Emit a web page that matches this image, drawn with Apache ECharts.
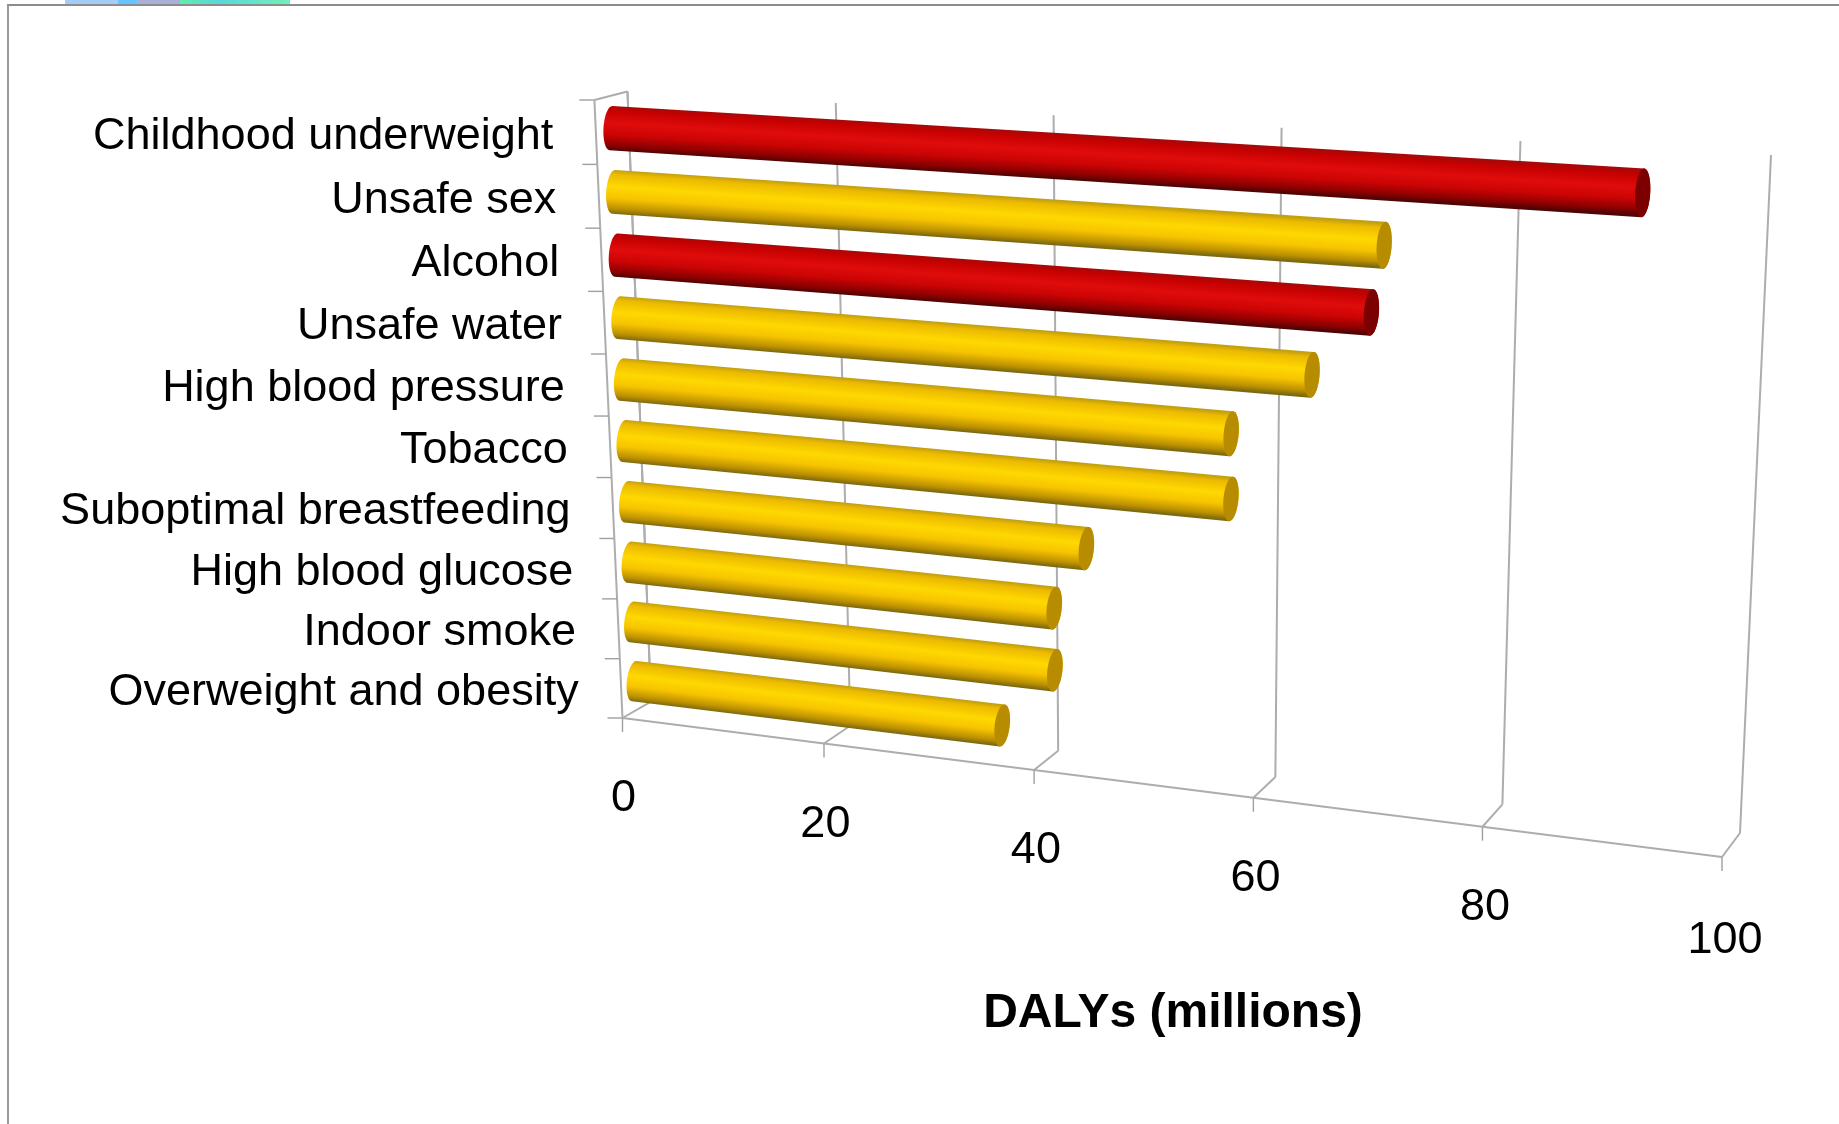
<!DOCTYPE html>
<html>
<head>
<meta charset="utf-8">
<title>DALYs by risk factor</title>
<style>html,body{margin:0;padding:0;background:#fff}#chart{width:1839px;height:1124px}</style>
<script src="https://cdn.jsdelivr.net/npm/echarts@6/dist/echarts.min.js"></script>
</head>
<body>
<div id="chart"></div>
<script>
// Attributable burden by leading risk factor, millions of DALYs.
const categories = ['Childhood underweight','Unsafe sex','Alcohol','Unsafe water','High blood pressure','Tobacco','Suboptimal breastfeeding','High blood glucose','Indoor smoke','Overweight and obesity'];
const dalys = [91, 70, 69, 64, 57, 57, 44, 41, 41, 36];
const highlighted = ['Childhood underweight', 'Alcohol'];
const valueTicks = [0, 20, 40, 60, 80, 100];
const axisTitle = 'DALYs (millions)';

// Flat plot rectangle that the scales work in; it is then projected into the 3D box.
const plot = {left: 600, top: 100, width: 1100, height: 620};

// Corners of the box walls on screen: top-left, top-right, bottom-right, bottom-left.
const frontWall = [[594.4,100],[1748,172],[1722,857],[622.5,718]];
const backWall  = [[627.5,91.5],[1771,155],[1740,833],[651,701.7]];

// Homography from the unit square onto a quadrilateral.
function squareToQuad(q) {
  const [p0, p1, p2, p3] = q;
  const dx1 = p1[0]-p2[0], dx2 = p3[0]-p2[0], sx = p0[0]-p1[0]+p2[0]-p3[0];
  const dy1 = p1[1]-p2[1], dy2 = p3[1]-p2[1], sy = p0[1]-p1[1]+p2[1]-p3[1];
  const den = dx1*dy2-dx2*dy1;
  const g = (sx*dy2-dx2*sy)/den, h = (dx1*sy-sx*dy1)/den;
  const a = p1[0]-p0[0]+g*p1[0], b = p3[0]-p0[0]+h*p3[0], c = p0[0];
  const d = p1[1]-p0[1]+g*p1[1], e = p3[1]-p0[1]+h*p3[1], f = p0[1];
  return (u, v) => {
    const w = g*u+h*v+1;
    return [(a*u+b*v+c)/w, (d*u+e*v+f)/w];
  };
}
const toFront = squareToQuad(frontWall);
const toBack = squareToQuad(backWall);

// Project a point of the flat plot to the screen at a depth (0 front, 1 back).
function project(pt, depth) {
  const u = (pt[0]-plot.left)/plot.width, v = (pt[1]-plot.top)/plot.height;
  const a = toFront(u, v), b = toBack(u, v);
  return [a[0]+(b[0]-a[0])*depth, a[1]+(b[1]-a[1])*depth];
}

const gridColor = '#adadad';
const tickColor = '#a0a0a0';
const lineStyle = (w, c) => ({stroke: c || gridColor, lineWidth: w || 2, fill: null});
const seg = (a, b, w, c) => ({type:'line', shape:{x1:a[0],y1:a[1],x2:b[0],y2:b[1]}, style:lineStyle(w,c), silent:true});

// Value gridlines: up the back wall, across the floor, then a tick below the front edge.
function renderValueGrid(params, api) {
  const i = params.dataIndexInside;
  const v = api.value(0);
  const band = api.size([0,1])[1];
  const top = api.coord([v, 0]); top[1] -= band/2;
  const bot = api.coord([v, categories.length-1]); bot[1] += band/2;
  const bt = project(top,1), bb = project(bot,1), fb = project(bot,0);
  return {type:'group', children:[
    seg(bt, bb),
    seg(bb, fb),
    seg(fb, [fb[0], fb[1]+14], 1.4, tickColor),
    i < valueTicks.length-1 ? seg(fb, project(api.coord([valueTicks[i+1], categories.length-1]).map((c,k)=>k?c+band/2:c),0)) : {type:'group'},
    {type:'text', silent:true, style:{
      x: fb[0]+1+i*0.4, y: fb[1]+81+(i === valueTicks.length-1 ? 3 : 0), text: String(v),
      font:'45px "Liberation Sans", Arial, sans-serif', fill:'#000', align:'center', verticalAlign:'middle'
    }}
  ]};
}

// Side wall of the box and the category ticks along its front edge.
function renderCategoryTick(params, api) {
  const i = api.value(1);
  const band = api.size([0,1])[1];
  const p = api.coord([0, i]);
  const upper = project([p[0], p[1]-band/2], 0);
  const lower = project([p[0], p[1]+band/2], 0);
  const children = [
    seg(upper, lower),
    seg(upper, [upper[0]-15, upper[1]], 1.4, tickColor),
    seg(project([p[0], p[1]-band/2], 1), project([p[0], p[1]+band/2], 1))
  ];
  if (i === 0) children.push(seg(upper, project([p[0], p[1]-band/2], 1)));
  if (i === categories.length-1) children.push(seg(lower, [lower[0]-15, lower[1]], 1.4, tickColor));
  return {type:'group', children};
}

// Category names, right aligned against the front edge of the box.
function renderCategoryLabel(params, api) {
  const p = project(api.coord([0, api.value(1)]), 0);
  return {type:'text', silent:true, style:{
    x: p[0]-42.5, y: p[1]+4, text: categories[api.value(1)],
    font:'45px "Liberation Sans", Arial, sans-serif', fill:'#000', align:'right', verticalAlign:'middle'
  }};
}

const shades = {
  gold: {stops:['#c2a010','#ecba00','#ffd800','#f6c400','#bc9000','#7d6a10'], cap:'#b88c00'},
  red:  {stops:['#a80808','#c60000','#e00c0c','#cc0404','#8e0000','#520404'], cap:'#7c0000'}
};
const barDepth = 0.46, capRadius = 7.5, barFill = 0.69;
const shadePos = [0, 0.1, 0.38, 0.64, 0.88, 1];

// A cylinder: shaded body with a rounded near end and a flat darker cap at the value.
function renderCylinder(params, api) {
  const v = api.value(0), i = api.value(1);
  const band = api.size([0,1])[1];
  const a = project(api.coord([0, i]), barDepth);
  const b = project(api.coord([v, i]), barDepth);
  const halfAt = (c) => {
    const s = project([c[0], c[1]-band/2], barDepth), e = project([c[0], c[1]+band/2], barDepth);
    return Math.hypot(e[0]-s[0], e[1]-s[1])*barFill/2;
  };
  const ra = halfAt(api.coord([0, i])), rb = halfAt(api.coord([v, i]));
  const len = Math.hypot(b[0]-a[0], b[1]-a[1]);
  const ux = (b[0]-a[0])/len, uy = (b[1]-a[1])/len;
  const nx = -uy, ny = ux;
  const ell = (c, r, t) => [c[0]+nx*r*Math.sin(t)+ux*capRadius*Math.cos(t), c[1]+ny*r*Math.sin(t)+uy*capRadius*Math.cos(t)];
  const body = [], cap = [];
  const N = 24;
  for (let k = 0; k <= N; k++) body.push(ell(b, rb, -Math.PI/2+Math.PI*k/N));
  for (let k = 0; k <= N; k++) body.push(ell(a, ra, Math.PI/2+Math.PI*k/N));
  for (let k = 0; k < 2*N; k++) cap.push(ell(b, rb, Math.PI*k/N));
  const shade = highlighted.includes(categories[i]) ? shades.red : shades.gold;
  const fill = new echarts.graphic.LinearGradient(
    a[0]-nx*ra, a[1]-ny*ra, a[0]+nx*ra, a[1]+ny*ra,
    shade.stops.map((color, k) => ({offset: shadePos[k], color})), true);
  return {type:'group', children:[
    {type:'polygon', shape:{points:body}, style:{fill}, silent:true},
    {type:'polygon', shape:{points:cap}, style:{fill:shade.cap}, silent:true}
  ]};
}

const chart = echarts.init(document.getElementById('chart'));
const tickData = valueTicks.map(v => [v, 0]);
const catData = categories.map((c, i) => [dalys[i], i]);
chart.setOption({
  animation: false,
  backgroundColor: '#fff',
  grid: {left: plot.left, top: plot.top, width: plot.width, height: plot.height},
  xAxis: {type:'value', min:0, max:100, interval:20, show:false},
  yAxis: {type:'category', data:categories, inverse:true, show:false},
  graphic: [
    {type:'rect', z:1, shape:{x:65,y:0,width:53,height:4}, style:{fill:'#a4ccf4'}},
    {type:'rect', z:1, shape:{x:118,y:0,width:19,height:4}, style:{fill:'#66c4ff'}},
    {type:'rect', z:1, shape:{x:137,y:0,width:43,height:4}, style:{fill:'#a8b0d8'}},
    {type:'rect', z:1, shape:{x:180,y:0,width:110,height:4}, style:{fill:new echarts.graphic.LinearGradient(0,0,1,0,[
      {offset:0,color:'#62ecac'},{offset:0.35,color:'#58d8d8'},{offset:1,color:'#70f0b8'}])}},
    {type:'line', z:1, shape:{x1:7,y1:5,x2:1839,y2:5}, style:{stroke:'#8c8c8c',lineWidth:2}},
    {type:'line', z:1, shape:{x1:8,y1:5,x2:8,y2:1124}, style:{stroke:'#9a9a9a',lineWidth:2}},
    {type:'text', z:5, style:{x:1173,y:1014,text:axisTitle,align:'center',verticalAlign:'middle',
      font:'bold 48px "Liberation Sans", Arial, sans-serif',fill:'#000'}}
  ],
  series: [
    {type:'custom', coordinateSystem:'cartesian2d', z:2, data:tickData, renderItem:renderValueGrid, clip:false, encode:{x:0,y:1}},
    {type:'custom', coordinateSystem:'cartesian2d', z:2, data:catData, renderItem:renderCategoryTick, clip:false, encode:{x:0,y:1}},
    {type:'custom', coordinateSystem:'cartesian2d', z:3, data:catData, renderItem:renderCylinder, clip:false, encode:{x:0,y:1}},
    {type:'custom', coordinateSystem:'cartesian2d', z:4, data:catData, renderItem:renderCategoryLabel, clip:false, encode:{x:0,y:1}}
  ]
});
</script>
</body>
</html>
